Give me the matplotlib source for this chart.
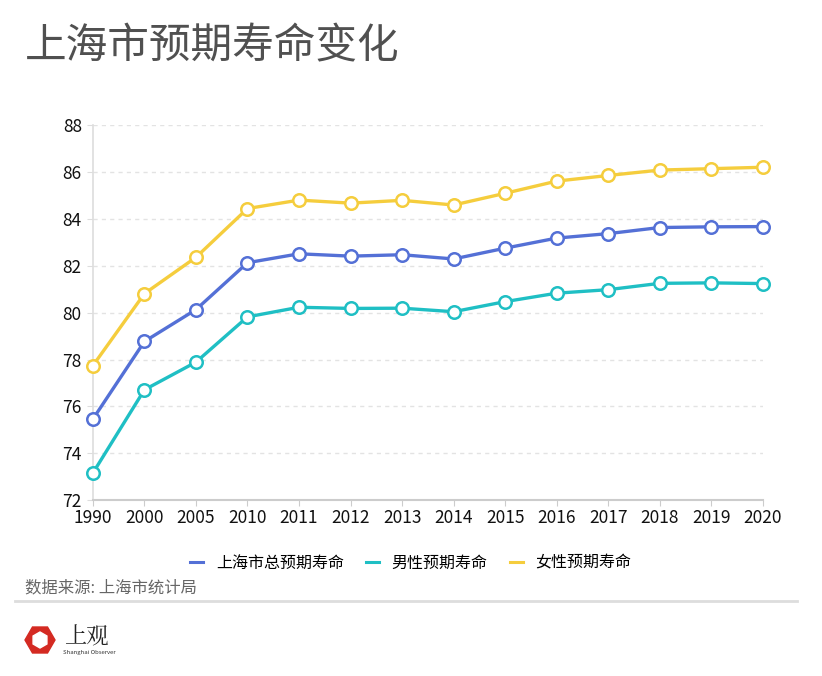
import matplotlib.pyplot as plt
from matplotlib.patches import RegularPolygon
from matplotlib.lines import Line2D

plt.rcParams['font.family'] = ['Noto Sans CJK SC', 'DejaVu Sans']

years = ['1990', '2000', '2005', '2010', '2011', '2012', '2013', '2014',
         '2015', '2016', '2017', '2018', '2019', '2020']
total = [75.46, 78.77, 80.13, 82.13, 82.51, 82.41, 82.47, 82.29,
         82.75, 83.18, 83.37, 83.63, 83.66, 83.67]
male = [73.16, 76.71, 77.89, 79.82, 80.23, 80.18, 80.19, 80.04,
        80.47, 80.83, 80.98, 81.25, 81.27, 81.24]
female = [77.74, 80.81, 82.36, 84.44, 84.80, 84.67, 84.79, 84.59,
          85.09, 85.61, 85.85, 86.08, 86.14, 86.20]
names = ['上海市总预期寿命', '男性预期寿命', '女性预期寿命']
colors = ['#5470d6', '#1fbfc4', '#f5cd3d']

fig = plt.figure(figsize=(8.22, 6.76), dpi=100)
ax = fig.add_axes([0.113, 0.26, 0.815, 0.555])

x = range(len(years))
for vals, c, n in zip([total, male, female], colors, names):
    ax.plot(x, vals, color=c, lw=2.4, marker='o', ms=9, mfc='white',
            mec=c, mew=1.8, label=n, zorder=3, clip_on=False)

ax.set_xlim(0, len(years) - 1)
ax.set_ylim(72, 88)
ax.set_yticks(range(72, 89, 2))
ax.set_xticks(list(x))
ax.set_xticklabels(years)
ax.grid(axis='y', color='#e3e3e3', ls=(0, (3, 3)), lw=1)
ax.set_axisbelow(True)
for s in ['top', 'right']:
    ax.spines[s].set_visible(False)
ax.spines['left'].set_color('#dddddd')
ax.spines['bottom'].set_color('#cccccc')
ax.spines['left'].set_linewidth(1.2)
ax.spines['bottom'].set_linewidth(1.5)
ax.tick_params(axis='both', labelsize=12.5, colors='#111111', length=4)
ax.tick_params(axis='y', color='#dddddd', pad=4)
ax.tick_params(axis='x', color='#cccccc', pad=2)

handles = [Line2D([], [], color=c, lw=2.2) for c in colors]
fig.legend(handles, names, loc='center', bbox_to_anchor=(0.5, 0.167),
           ncol=3, frameon=False, fontsize=11.5, handlelength=0.8,
           columnspacing=1.4, handletextpad=0.8,
           prop={'size': 11.5, 'weight': 'medium'})

fig.text(0.03, 0.930, '上海市预期寿命变化', fontsize=30, color='#505050',
         va='center', ha='left', fontweight='medium')
fig.text(0.03, 0.130, '数据来源: 上海市统计局', fontsize=11.8, color='#666666',
         va='center', ha='left')
fig.add_artist(Line2D([0.018, 0.97], [0.111, 0.111], color='#dddddd', lw=2))

# logo
fig.add_artist(RegularPolygon((40, 676 - 640), 6, radius=15,
                              orientation=3.14159 / 6, color='#d42a22',
                              transform=None))
fig.add_artist(RegularPolygon((40, 676 - 640), 6, radius=8,
                              orientation=0, color='white',
                              transform=None))
fig.text(0.078, 0.058, '上观', fontsize=16, color='#222222',
         va='center', ha='left', family=['Noto Serif CJK SC', 'Noto Sans CJK SC'])
fig.text(0.077, 0.035, 'Shanghai Observer', fontsize=4.3, color='#333333',
         va='center', ha='left')

fig.savefig('out.png', dpi=100)
